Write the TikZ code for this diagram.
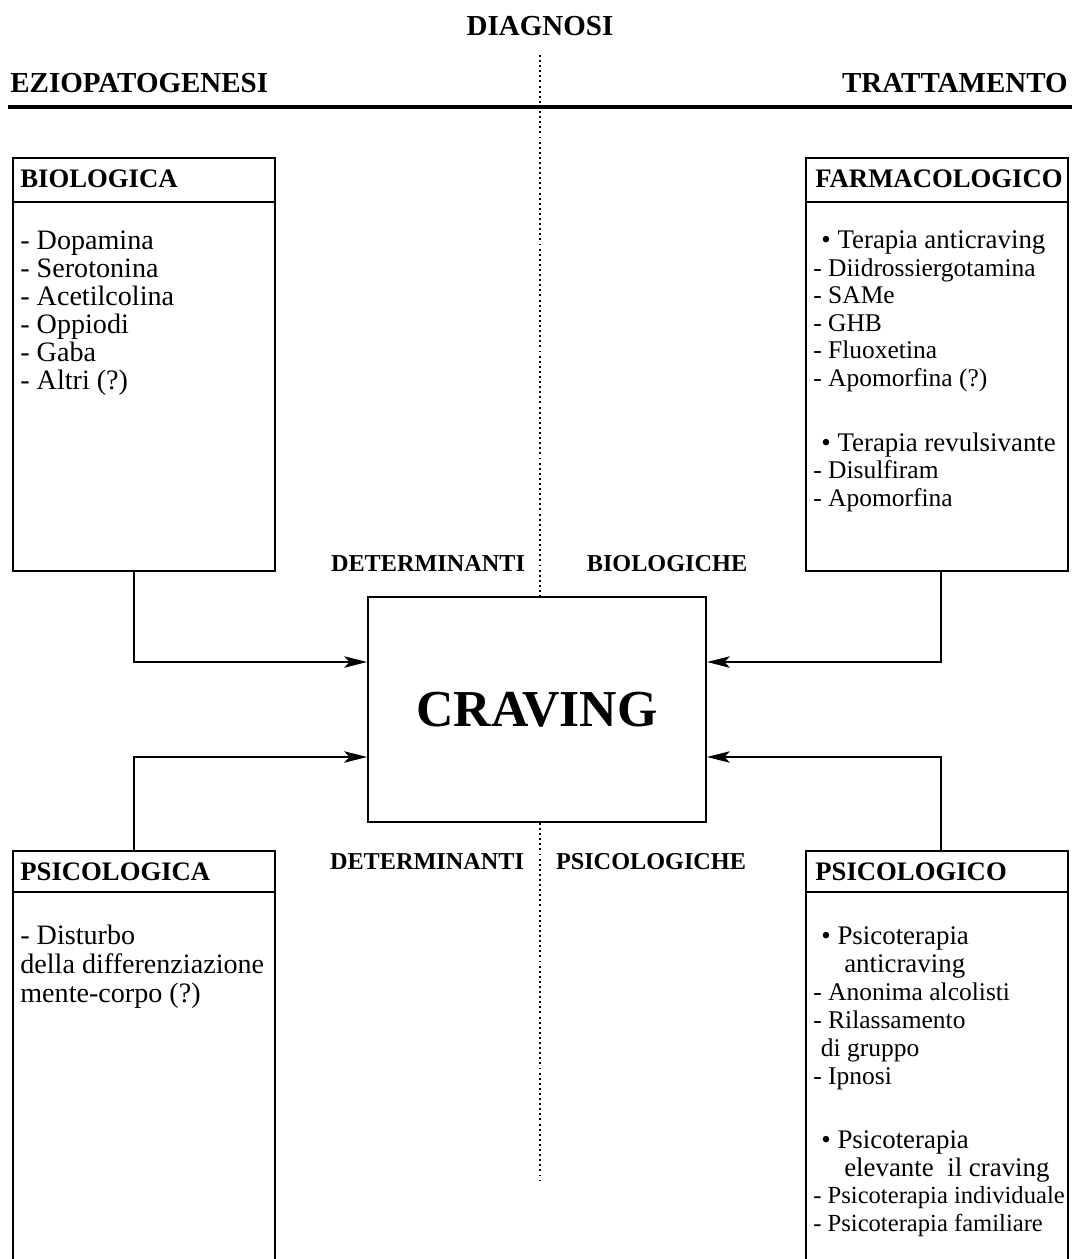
\documentclass[tikz,border=0pt]{standalone}
\usepackage{fontspec}
\setmainfont{Liberation Serif}
\usepackage{tikz}
\usetikzlibrary{arrows.meta}
\usetikzlibrary{positioning}
\newcommand{\headfont}{\fontsize{16.5}{19}\selectfont\bfseries}
\newcommand{\boxfont}{\fontsize{15.2}{18}\selectfont\bfseries}
\newcommand{\detfont}{\fontsize{13.8}{16}\selectfont\bfseries}
\newcommand{\leftfont}{\fontsize{16}{15.9}\selectfont}
\newcommand{\rightfont}{\fontsize{14.5}{15.6}\selectfont}
\newcommand{\bigitem}{\fontsize{15.3}{15.6}\selectfont}
\tikzstyle{frame}=[draw,line width=1.1pt,minimum width=5.24cm,inner sep=0pt,anchor=north west]
\tikzstyle{boxtitle}=[anchor=base west,inner sep=0pt,font=\boxfont]
\tikzstyle{items}=[anchor=base west,inner sep=0pt,align=left]
\tikzstyle{label}=[anchor=base,inner sep=0pt,font=\detfont]
\tikzstyle{feed}=[line width=1.1pt,-{Stealth[length=13pt,width=6.5pt,inset=3pt]}]
\tikzstyle{axis}=[line width=1.2pt,dash pattern=on 1.1pt off 1.8pt]

\begin{document}
\begin{tikzpicture}[x=0.02cm,y=-0.02cm]
\clip (0,0) rectangle (1074,1259);
% headings
\node (diag) at (540,35) [anchor=base,inner sep=0pt,font=\headfont] {DIAGNOSI};
\node (ezio) at (10,92) [anchor=base west,inner sep=0pt,font=\headfont] {EZIOPATOGENESI};
\node (tratt) at (1068,92) [anchor=base east,inner sep=0pt,font=\headfont] {TRATTAMENTO};
\draw[line width=2pt] (8,107) -- (1072,107);

\node (crav) at (537,709.5) [draw,line width=1.1pt,minimum width=6.76cm,minimum height=4.5cm,
  font=\fontsize{29.5}{34}\selectfont\bfseries] {CRAVING};
\coordinate (dtop) at (540,55);
\coordinate (dbot) at (540,1180);
\draw[axis] (dtop) -- (dtop |- crav.north);
\draw[axis] (dbot |- crav.south) -- (dbot);

% eziopatogenesi (base = last line)
\node (bio) at (12,157) [frame,minimum height=8.26cm] {};
\draw[line width=1.1pt] ([yshift=-0.9cm]bio.north west) -- ([yshift=-0.9cm]bio.north east);
\node (biot) at (20,187) [boxtitle] {BIOLOGICA};
\node (biol) at (20,389) [items,font=\leftfont]
  {- Dopamina\\- Serotonina\\- Acetilcolina\\- Oppiodi\\- Gaba\\- Altri (?)};

\node (psa) at (12,850) [frame,minimum height=10cm] {};
\draw[line width=1.1pt] ([yshift=-0.84cm]psa.north west) -- ([yshift=-0.84cm]psa.north east);
\node (psat) at (20,880) [boxtitle] {PSICOLOGICA};
\node (psal) at (20,1002) [items,font=\fontsize{16}{16.5}\selectfont]
  {- Disturbo\\della differenziazione\\mente-corpo (?)};

% trattamento
\node (far) at (805,157) [frame,minimum height=8.26cm] {};
\draw[line width=1.1pt] ([yshift=-0.9cm]far.north west) -- ([yshift=-0.9cm]far.north east);
\node (fart) at (815,187) [boxtitle] {FARMACOLOGICO};
\node (farl) at (813,386) [items,font=\rightfont]
  {{\bigitem\hspace*{0.3em}• Terapia anticraving}\\- Diidrossiergotamina\\- SAMe\\- GHB\\- Fluoxetina\\- Apomorfina (?)};
\node (farr) at (813,506) [items,font=\rightfont]
  {{\bigitem\hspace*{0.3em}• Terapia revulsivante}\\- Disulfiram\\- Apomorfina};

\node (pso) at (805,850) [frame,minimum height=10cm] {};
\draw[line width=1.1pt] ([yshift=-0.84cm]pso.north west) -- ([yshift=-0.84cm]pso.north east);
\node (psot) at (815,880) [boxtitle] {PSICOLOGICO};
\node (psol) at (813,1084) [items,font=\fontsize{14.5}{15.9}\selectfont]
  {{\bigitem\hspace*{0.3em}• Psicoterapia}\\{\bigitem\hspace*{1.15em}anticraving}\\- Anonima alcolisti\\- Rilassamento\\\hspace*{0.3em}di gruppo\\- Ipnosi};
\node (psoe) at (813,1231) [items,font=\fontsize{14}{15.6}\selectfont]
  {{\bigitem\hspace*{0.3em}• Psicoterapia}\\{\bigitem\hspace*{1.15em}elevante\ \ il craving}\\- Psicoterapia individuale\\- Psicoterapia familiare};

% determinanti
\node (detb) at (428,571) [label] {DETERMINANTI};
\node (biog) at (667,571) [label] {BIOLOGICHE};
\node (detp) at (427,869) [label] {DETERMINANTI};
\node (psig) at (651,869) [label] {PSICOLOGICHE};

\draw[feed] ([xshift=-0.2cm]bio.south) |- ([yshift=0.95cm]crav.west);
\draw[feed] ([xshift=-0.2cm]psa.north) |- ([yshift=-0.95cm]crav.west);
\draw[feed] ([xshift=0.08cm]far.south) |- ([yshift=0.95cm]crav.east);
\draw[feed] ([xshift=0.08cm]pso.north) |- ([yshift=-0.95cm]crav.east);

\end{tikzpicture}
\end{document}
